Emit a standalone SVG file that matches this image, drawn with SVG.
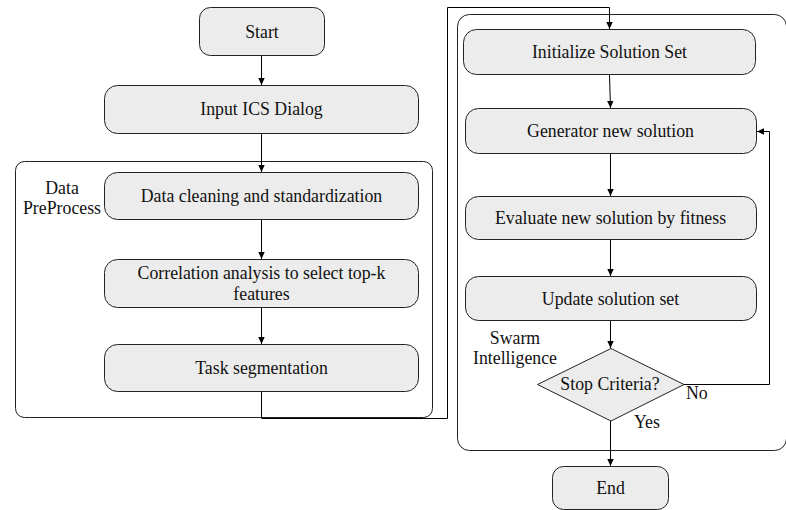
<svg xmlns="http://www.w3.org/2000/svg" width="786" height="510" viewBox="0 0 786 510">
<defs>
<marker id="ah" markerWidth="8" markerHeight="8" refX="7" refY="4" orient="auto" markerUnits="userSpaceOnUse">
<path d="M0,0.8 L7,4 L0,7.2 Z" fill="#000"/>
</marker>
<style>
.n{fill:#ececec;stroke:#222;stroke-width:1}
.g{fill:none;stroke:#222;stroke-width:1}
.c{fill:none;stroke:#000;stroke-width:1;marker-end:url(#ah)}
.t{font-family:"Liberation Serif","Times New Roman",serif;font-size:17.8px;fill:#111}
.m{text-anchor:middle}
</style>
</defs>
<rect width="786" height="510" fill="#fff"/>
<g id="group-preprocess">
<rect class="g" x="15.5" y="161.5" width="417" height="256" rx="9"/>
<text class="t m" x="62" y="194">Data</text>
<text class="t m" x="62" y="214">PreProcess</text>
</g>
<g id="group-swarm">
<rect class="g" x="457.5" y="14.5" width="329" height="436" rx="12"/>
<text class="t m" x="515" y="344">Swarm</text>
<text class="t m" x="515" y="364">Intelligence</text>
</g>
<g id="start"><rect class="n" x="199.5" y="7.5" width="125" height="48" rx="11"/><text class="t m" x="262" y="38">Start</text></g>
<g id="input"><rect class="n" x="104.5" y="85.5" width="314" height="48" rx="13"/><text class="t m" x="261.5" y="115">Input ICS Dialog</text></g>
<g id="clean"><rect class="n" x="104.5" y="172.5" width="314" height="47" rx="13"/><text class="t m" x="261.5" y="202">Data cleaning and standardization</text></g>
<g id="corr"><rect class="n" x="104.5" y="259.5" width="314" height="48" rx="13"/><text class="t m" x="261.5" y="279">Correlation analysis to select top-k</text><text class="t m" x="261.5" y="300">features</text></g>
<g id="task"><rect class="n" x="104.5" y="344.5" width="314" height="47" rx="13"/><text class="t m" x="261.5" y="374">Task segmentation</text></g>
<g id="init"><rect class="n" x="463.5" y="29.5" width="292" height="45" rx="13"/><text class="t m" x="609.5" y="58">Initialize Solution Set</text></g>
<g id="gen"><rect class="n" x="465.5" y="108.5" width="291" height="45" rx="13"/><text class="t m" x="610.5" y="137">Generator new solution</text></g>
<g id="eval"><rect class="n" x="465.5" y="196.5" width="291" height="43" rx="13"/><text class="t m" x="610.5" y="224">Evaluate new solution by fitness</text></g>
<g id="update"><rect class="n" x="465.5" y="276.5" width="291" height="44" rx="13"/><text class="t m" x="610.5" y="305">Update solution set</text></g>
<g id="stop"><path class="n" d="M611,348.5 L684,384.5 L611,421 L537.5,384.5 Z"/><text class="t m" x="610" y="390">Stop Criteria?</text></g>
<g id="end"><rect class="n" x="552.5" y="466.5" width="116" height="43" rx="11"/><text class="t m" x="610.5" y="494">End</text></g>
<g id="connectors">
<line class="c" x1="261.5" y1="56" x2="261.5" y2="85"/>
<line class="c" x1="261.5" y1="134" x2="261.5" y2="172"/>
<line class="c" x1="261.5" y1="220" x2="261.5" y2="259"/>
<line class="c" x1="261.5" y1="308" x2="261.5" y2="344"/>
<polyline class="c" points="261.5,392 261.5,418.5 447.5,418.5 447.5,7.5 609.5,7.5 609.5,29"/>
<line class="c" x1="609.5" y1="75" x2="610.5" y2="108"/>
<line class="c" x1="610.5" y1="154" x2="610.5" y2="196"/>
<line class="c" x1="610.5" y1="240" x2="610.5" y2="276"/>
<line class="c" x1="610.5" y1="321" x2="610.5" y2="348"/>
<polyline class="c" points="684,384.5 769.5,384.5 769.5,131.5 757,131.5"/>
<line class="c" x1="610.5" y1="421" x2="610.5" y2="466"/>
<text class="t" x="686" y="399">No</text>
<text class="t" x="634" y="428">Yes</text>
</g>
</svg>
